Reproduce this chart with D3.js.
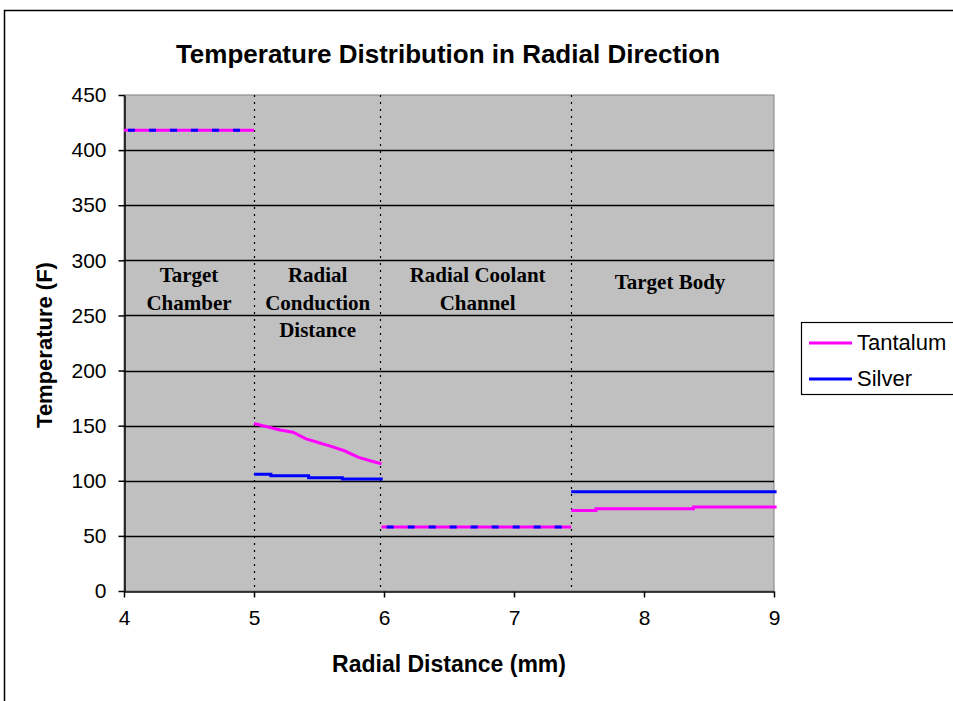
<!DOCTYPE html>
<html>
<head>
<meta charset="utf-8">
<script src="https://cdn.jsdelivr.net/npm/d3@7"></script>
<style>
  html, body { margin: 0; padding: 0; background: #ffffff; }
  svg { display: block; }
</style>
</head>
<body>
<svg id="chart" width="953" height="701"></svg>
<script>
// Temperature profile per radial zone (zone index: 0 chamber, 1 conduction, 2 coolant, 3 body)
const tantalumX    = [4.0, 5.0, 5.0, 5.1, 5.2, 5.3, 5.4, 5.5, 5.6, 5.7, 5.8, 5.9, 5.98, 5.98, 7.44, 7.44, 7.63, 7.63, 8.38, 8.38, 9.02];
const tantalumY    = [418, 418, 152, 149, 146, 144, 138, 134.5, 131, 127, 121.5, 118, 115.5, 58, 58, 73, 73, 74.7, 74.7, 76.2, 76.2];
const tantalumZone = [0, 0, 1, 1, 1, 1, 1, 1, 1, 1, 1, 1, 1, 2, 2, 3, 3, 3, 3, 3, 3];
const silverX      = [4.0, 5.0, 5.0, 5.13, 5.13, 5.42, 5.42, 5.68, 5.68, 5.99, 5.99, 7.44, 7.44, 9.02];
const silverY      = [418, 418, 106, 106, 104.6, 104.6, 102.8, 102.8, 101.6, 101.6, 58, 58, 90, 90];
const silverZone   = [0, 0, 1, 1, 1, 1, 1, 1, 1, 1, 2, 2, 3, 3];
// Zones where both materials share the same temperature
const sharedZones = [0, 2];

const zoneBounds = [5.0, 5.97, 7.44];
const zoneLabels = [
  { x: 4.5,  lines: ["Target", "Chamber"] },
  { x: 5.49, lines: ["Radial", "Conduction", "Distance"] },
  { x: 6.72, lines: ["Radial Coolant", "Channel"] },
  { x: 8.2,  lines: ["Target Body"] }
];

const xTicks = [4, 5, 6, 7, 8, 9];
const yTicks = [0, 50, 100, 150, 200, 250, 300, 350, 400, 450];
const seriesNames = ["Tantalum", "Silver"];
const seriesColors = ["#ff00ff", "#0000ff"];

const sans = "'Liberation Sans', Arial, sans-serif";
const svg = d3.select("#chart");

// Outer frame
svg.append("rect").attr("x", 4.5).attr("y", 10.5).attr("width", 960).attr("height", 700)
  .attr("fill", "#ffffff").attr("stroke", "#000000").attr("stroke-width", 1.5);

const plotLeft = 124, plotRight = 774, plotTop = 95, plotBottom = 591;
const x = d3.scaleLinear().domain([4, 9]).range([plotLeft, plotRight]);
const y = d3.scaleLinear().domain([0, 450]).range([plotBottom, plotTop]);

// Plot area
svg.append("rect").attr("x", plotLeft).attr("y", plotTop)
  .attr("width", plotRight - plotLeft).attr("height", plotBottom - plotTop)
  .attr("fill", "#c0c0c0").attr("stroke", "#808080").attr("stroke-width", 1);

// Horizontal gridlines
svg.append("g").selectAll("line").data(yTicks.filter(v => v > 0 && v < 450)).join("line")
  .attr("x1", plotLeft).attr("x2", plotRight)
  .attr("y1", d => Math.round(y(d)) + 0.5).attr("y2", d => Math.round(y(d)) + 0.5)
  .attr("stroke", "#000000").attr("stroke-width", 1.3);

// Zone boundaries
svg.append("g").selectAll("line").data(zoneBounds).join("line")
  .attr("x1", d => Math.round(x(d)) + 0.5).attr("x2", d => Math.round(x(d)) + 0.5)
  .attr("y1", plotTop).attr("y2", plotBottom)
  .attr("stroke", "#000000").attr("stroke-width", 1.2).attr("stroke-dasharray", "2,5");

// Zone labels
zoneLabels.forEach(z => {
  const t = svg.append("text").attr("text-anchor", "middle")
    .attr("font-family", "'Liberation Serif', 'Times New Roman', serif")
    .attr("font-weight", "bold").attr("font-size", 21).attr("fill", "#000000");
  const y0 = z.lines.length === 1 ? 289 : 282;
  z.lines.forEach((s, i) => {
    t.append("tspan").attr("x", x(z.x)).attr("y", y0 + i * 27.5).text(s);
  });
});

// Axes
const yAxis = d3.axisLeft(y).tickValues(yTicks).tickSize(6).tickSizeOuter(0).tickPadding(12);
const gy = svg.append("g").attr("transform", `translate(${plotLeft + 0.5},0)`).call(yAxis);
const xAxis = d3.axisBottom(x).tickValues(xTicks).tickSize(6).tickSizeOuter(0).tickPadding(13).tickFormat(d3.format("d"));
const gx = svg.append("g").attr("transform", `translate(0,${plotBottom + 0.5})`).call(xAxis);
[gx, gy].forEach(g => {
  g.selectAll("path, line").attr("stroke", "#000000").attr("stroke-width", 1.5);
  g.selectAll("text").attr("font-family", sans).attr("font-size", 21).attr("fill", "#000000");
});

// Series lines, one path per zone so the zones stay disconnected
const line = d3.line().x(d => x(d[0])).y(d => y(d[1]));
function zoneSegments(xs, ys, zs) {
  return d3.groups(xs.map((v, i) => ({ p: [v, ys[i]], z: zs[i] })), d => d.z)
    .map(([z, pts]) => ({ zone: z, pts: pts.map(d => d.p) }));
}
const tantalumSegs = zoneSegments(tantalumX, tantalumY, tantalumZone);
const silverSegs = zoneSegments(silverX, silverY, silverZone);

svg.append("g").selectAll("path").data(silverSegs.filter(s => !sharedZones.includes(s.zone))).join("path")
  .attr("d", d => line(d.pts))
  .attr("fill", "none").attr("stroke", seriesColors[1]).attr("stroke-width", 3);
svg.append("g").selectAll("path").data(tantalumSegs).join("path")
  .attr("d", d => line(d.pts))
  .attr("fill", "none").attr("stroke", seriesColors[0]).attr("stroke-width", 3);
// Overlapping zones: silver drawn dashed over tantalum
svg.append("g").selectAll("path").data(silverSegs.filter(s => sharedZones.includes(s.zone))).join("path")
  .attr("d", d => line(d.pts))
  .attr("fill", "none").attr("stroke", seriesColors[1]).attr("stroke-width", 3)
  .attr("stroke-dasharray", "7,14").attr("stroke-dashoffset", -4);

// Title
svg.append("text").attr("x", 448).attr("y", 63).attr("text-anchor", "middle")
  .attr("font-family", sans).attr("font-weight", "bold")
  .attr("font-size", 26).text("Temperature Distribution in Radial Direction");

// Axis titles
svg.append("text").attr("x", 449).attr("y", 672).attr("text-anchor", "middle")
  .attr("font-family", sans).attr("font-weight", "bold")
  .attr("font-size", 23).text("Radial Distance (mm)");
svg.append("text").attr("transform", "translate(52,345) rotate(-90)").attr("text-anchor", "middle")
  .attr("font-family", sans).attr("font-weight", "bold")
  .attr("font-size", 22).text("Temperature (F)");

// Legend
const lg = svg.append("g");
lg.append("rect").attr("x", 801.5).attr("y", 322.5).attr("width", 170).attr("height", 72)
  .attr("fill", "#ffffff").attr("stroke", "#000000").attr("stroke-width", 1.2);
seriesNames.forEach((name, i) => {
  const yy = 343 + i * 36;
  lg.append("line").attr("x1", 809).attr("x2", 852).attr("y1", yy).attr("y2", yy)
    .attr("stroke", seriesColors[i]).attr("stroke-width", 3);
  lg.append("text").attr("x", 857).attr("y", yy + 7)
    .attr("font-family", sans).attr("font-size", 22)
    .text(name);
});
</script>
</body>
</html>
